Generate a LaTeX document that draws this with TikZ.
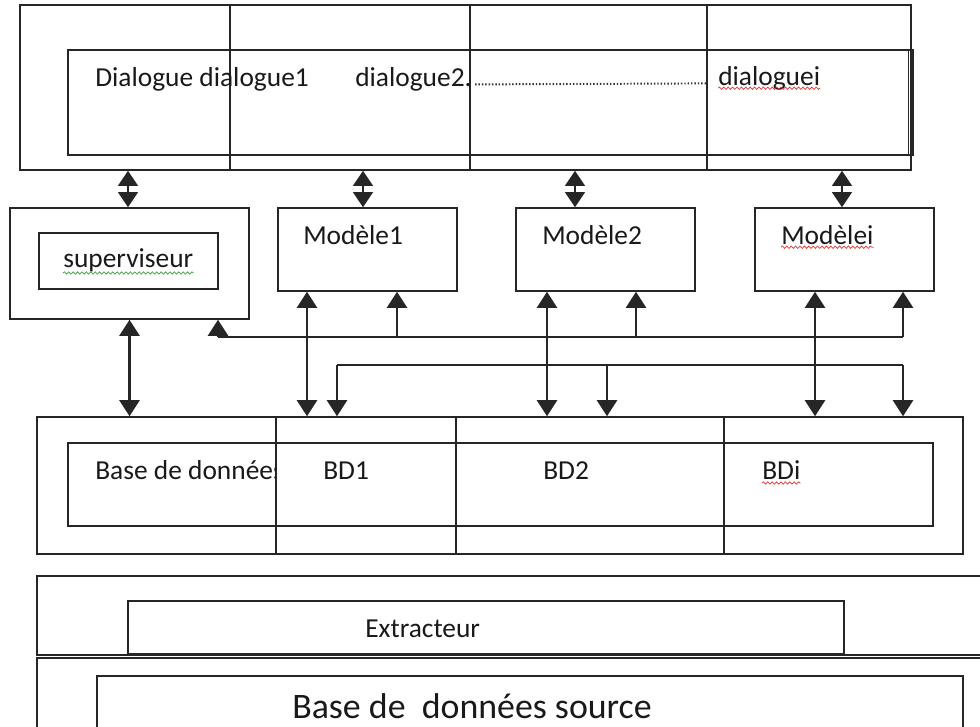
\documentclass[tikz,border=0pt]{standalone}
\usepackage{fontspec}
\setmainfont{Carlito}
\usetikzlibrary{arrows.meta, fit, decorations.pathmorphing}
\definecolor{spellred}{HTML}{E8342E}
\definecolor{spellgreen}{HTML}{3CA03C}

\begin{document}
\begin{tikzpicture}[
      x=0.25mm, y=-0.25mm,
      box/.style={draw=black!85, line width=1.1pt, inner sep=0pt, fit={#1}},
      sep/.style={draw=black!85, line width=1.1pt},
      bus/.style={black!85, line width=1.1pt},
      txt/.style={font=\fontsize{19.5}{22}\selectfont, inner sep=0pt,
                  anchor=base west, text=black!90},
      bigtxt/.style={txt, font=\fontsize{25.5}{30}\selectfont},
      ar/.style={-{Triangle[length=4mm,width=5mm]}, black!85, line width=1.6pt},
      dar/.style={{Triangle[length=4mm,width=5mm]}-{Triangle[length=4mm,width=5mm]},
                  black!85, line width=1.6pt},
      sdar/.style={{Triangle[length=3.8mm,width=5mm]}-{Triangle[length=3.8mm,width=5mm]},
                   black!85, line width=1.2pt},
      leader/.style={black!80, line width=1.4pt, dash pattern=on 1pt off 1.4pt},
      wavy/.style={decorate, decoration={snake, amplitude=0.3mm, segment length=1.1mm},
                   line width=0.5pt},
    ]
    \useasboundingbox (0,0) rectangle (980,726);
    \clip (0,0) rectangle (980,726);

    % dialogues
    \node[box={(20,5) (911,170)}] (dlgframe) {};
    \node[box={(68,50) (913,155)}] (dlg) {};
    \draw[sep, line width=0.6pt] ([xshift=-1.4mm]dlg.north east) -- ([xshift=-1.4mm]dlg.south east);
    \foreach \x in {230,470,707}
      \draw[sep] (\x,0 |- dlgframe.north) -- (\x,0 |- dlgframe.south);
    \node[txt] (dlg0) at (95,86) {Dialogue dialogue1};
    \node[txt] (dlg2) at (355,86) {dialogue2.};
    \node[txt] (dlgi) at (718,85) {dialoguei};
    \draw[leader] ([xshift=0.8mm, yshift=0.4mm]dlg2.base east) -- ([xshift=-3mm, yshift=0.4mm]dlgi.base west);
    \draw[wavy, spellred] ([yshift=-0.8mm]dlgi.base west) -- ([yshift=-0.8mm]dlgi.base east);

    % superviseur and models
    \node[box={(10,208) (249,319)}] (supframe) {};
    \node[box={(39,233) (218,289)}] (sup) {};
    \node[txt] (suplabel) at (63,267) {superviseur};
    \draw[wavy, spellgreen] ([yshift=-1.5mm]suplabel.base west) -- ([yshift=-1.5mm]suplabel.base east);
    \node[box={(278,208) (457,291)}] (mod1) {};
    \node[box={(516,208) (695,291)}] (mod2) {};
    \node[box={(755,208) (934,291)}] (modi) {};
    \node[txt] (mod1label) at (303,244) {Modèle1};
    \node[txt] (mod2label) at (542,244) {Modèle2};
    \node[txt] (modilabel) at (781,244) {Modèlei};
    \draw[wavy, spellred] ([yshift=-0.8mm]modilabel.base west) -- ([yshift=-0.8mm]modilabel.base east);

    \foreach \x/\m in {128/supframe, 363/mod1, 575/mod2, 842/modi}
      \draw[sdar] (\x,0 |- dlgframe.south) -- (\x,0 |- \m.north);

    % bases de donnees
    \node[box={(37,417) (963,554)}] (bdframe) {};
    \node[box={(68,443) (933,526)}] (bd) {};
    \foreach \x in {276,456,724}
      \draw[sep] (\x,0 |- bdframe.north) -- (\x,0 |- bdframe.south);
    \begin{scope}
      \clip (37,417) rectangle (275,554);
      \node[txt] (bdlabel) at (95,479) {Base de données};
    \end{scope}
    \node[txt] (bd1label) at (323,479) {BD1};
    \node[txt] (bd2label) at (543,479) {BD2};
    \node[txt] (bdilabel) at (762,479) {BDi};
    \draw[wavy, spellred] ([yshift=-1mm]bdilabel.base west) -- ([yshift=-1mm]bdilabel.base east);

    % liaisons
    \coordinate (busup) at (0,337);
    \coordinate (busdown) at (0,365);
    \draw[dar] (supframe.south) -- (supframe.south |- bdframe.north);
    \foreach \x/\m in {307/mod1, 547/mod2, 815/modi}
      \draw[dar] (\x,0 |- \m.south) -- (\x,0 |- bdframe.north);
    \draw[bus] (218,0 |- busup) -- (903,0 |- busup);
    \foreach \x/\m in {218/supframe, 397/mod1, 636/mod2, 903/modi}
      \draw[ar] (\x,0 |- busup) -- (\x,0 |- \m.south);
    \draw[bus] (337,0 |- busdown) -- (903,0 |- busdown);
    \foreach \x in {337,607,903}
      \draw[ar] (\x,0 |- busdown) -- (\x,0 |- bdframe.north);

    % extracteur et source
    \node[box={(37,576) (995,655)}] (extframe) {};
    \node[box={(128,601) (844,654)}] (ext) {};
    \node[txt] (extlabel) at (365,637) {Extracteur};
    \node[box={(37,658) (995,760)}] (srcframe) {};
    \node[box={(97,676) (963,760)}] (src) {};
    \node[bigtxt] (srclabel) at (292,718) {Base de\ \ données source};
  \end{tikzpicture}
\end{document}
